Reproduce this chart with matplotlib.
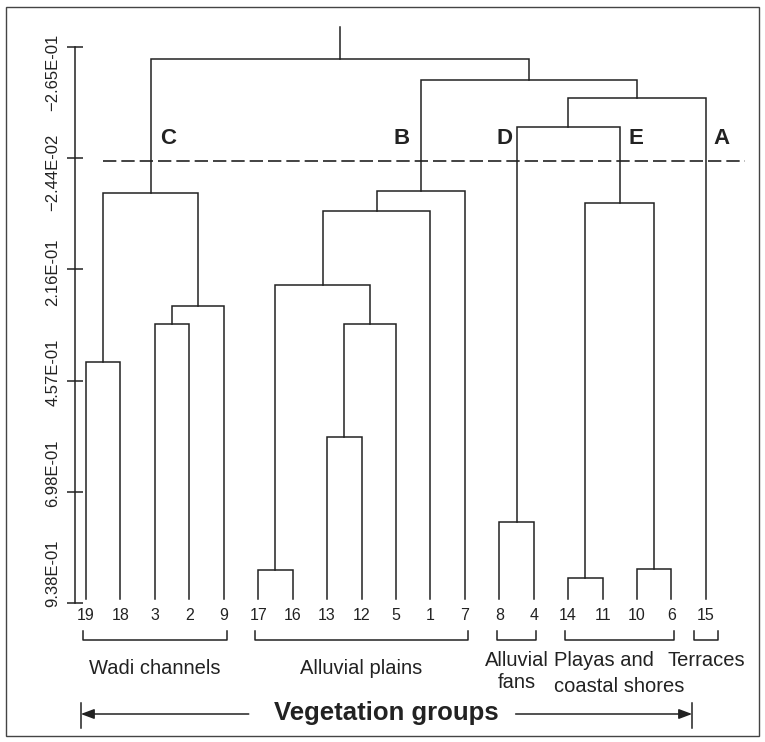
import numpy as np
import matplotlib.pyplot as plt
from matplotlib.patches import Rectangle
from matplotlib.transforms import blended_transform_factory

plt.rcParams['font.family'] = ['Liberation Sans', 'DejaVu Sans']

# leaves, left to right
leaf_order = ['19', '18', '3', '2', '9', '17', '16', '13', '12', '5',
              '1', '7', '8', '4', '14', '11', '10', '6', '15']

# merges (left child, right child, level); 'mN' = result of merge N
merge_left = ['19', '3', 'm1', 'm0', '17', '13', 'm5', 'm4', 'm7', 'm8',
              '8', '14', '10', 'm11', 'm10', 'm14', 'm9', 'm3']
merge_right = ['18', '2', '9', 'm2', '16', '12', '5', 'm6', '1', '7',
               '4', '11', '6', 'm12', 'm13', '15', 'm15', 'm16']
merge_level = [0.417, 0.334, 0.295, 0.051, 0.867, 0.579, 0.334, 0.250, 0.090, 0.047,
               0.763, 0.884, 0.864, 0.073, -0.092, -0.155, -0.194, -0.239]

ytick_vals = [-0.265, -0.0244, 0.216, 0.457, 0.698, 0.938]
ytick_labels = ['\u22122.65E-01', '\u22122.44E-02', '2.16E-01', '4.57E-01', '6.98E-01', '9.38E-01']

cut_level = -0.018
cluster_letters = ['C', 'B', 'D', 'E', 'A']
cluster_nodes = ['m3', 'm9', 'm10', 'm13', '15']

group_names = ['Wadi channels', 'Alluvial plains', 'Alluvial\nfans',
               'Playas and\ncoastal shores', 'Terraces']
group_first = ['19', '17', '8', '14', '15']
group_last = ['9', '7', '4', '6', '15']

W, H = 765, 742
col = '#222222'

fig = plt.figure(figsize=(W / 100, H / 100), dpi=100)
ax = fig.add_axes([0, 0, 1, 1])
ax.patch.set_visible(False)

# map leaf index / level onto the canvas
px_unit = 34.44
x0 = 86
k = (ytick_vals[-1] - ytick_vals[0]) / (603 - 47)
ax.set_xlim(-x0 / px_unit, (W - x0) / px_unit)
ax.set_ylim(ytick_vals[0] + (H - 47) * k, ytick_vals[0] - 47 * k)

leaf_base = 0.93
pos = {}
hgt = {}
for i, lf in enumerate(leaf_order):
    pos[lf] = i
    hgt[lf] = leaf_base

for n in range(len(merge_level)):
    a, b, lv = merge_left[n], merge_right[n], merge_level[n]
    ax.plot([pos[a], pos[a], pos[b], pos[b]], [hgt[a], lv, lv, hgt[b]],
            color=col, lw=1.1, solid_joinstyle='miter')
    pos['m%d' % n] = (pos[a] + pos[b]) / 2
    hgt['m%d' % n] = lv

root = 'm%d' % (len(merge_level) - 1)
ax.plot([pos[root], pos[root]], [hgt[root], hgt[root] - 0.069], color=col, lw=1.1)

# cut line
ax.plot([0.5, len(leaf_order) + 0.13], [cut_level, cut_level], color=col, lw=1.2,
        ls=(0, (8, 3)))

# y axis
axis_x = -0.32
for s in ['top', 'right', 'bottom']:
    ax.spines[s].set_visible(False)
ax.spines['left'].set_position(('data', axis_x))
ax.spines['left'].set_bounds(ytick_vals[0], ytick_vals[-1])
ax.spines['left'].set_color(col)
ax.spines['left'].set_linewidth(1.1)
ax.set_xticks([])
ax.set_yticks(ytick_vals)
ax.tick_params(axis='y', direction='inout', length=11, width=1.1, color=col, labelleft=False)
for i, (v, lab) in enumerate(zip(ytick_vals, ytick_labels)):
    off = 25 - 11 * i
    ax.annotate(lab, xy=(axis_x, v), xycoords='data', xytext=(-22, -off),
                textcoords='offset pixels', rotation=90, ha='center', va='center',
                fontsize=12, color=col)

tr = blended_transform_factory(ax.transData, fig.transFigure)
def fy(py):
    return 1 - py / H

# leaf labels
for lf in leaf_order:
    ax.text(pos[lf], fy(615), lf, transform=tr, ha='center', va='center',
            fontsize=11.5, color=col)

# cluster letters
letter_side = [18, -19, -12, 16, 16]
for let, nd, dx in zip(cluster_letters, cluster_nodes, letter_side):
    ax.annotate(let, xy=(pos[nd], fy(138)), xycoords=tr, xytext=(dx, 0),
                textcoords='offset pixels', ha='center', va='center',
                fontsize=16, fontweight='bold', color=col)

# group brackets and names
for name, f, l in zip(group_names, group_first, group_last):
    pad = 0.08 if f != l else 0.35
    x1, x2 = pos[f] - pad, pos[l] + pad
    ax.plot([x1, x1, x2, x2], [fy(631), fy(640), fy(640), fy(631)],
            transform=tr, color=col, lw=1.1)
    xc = (x1 + x2) / 2
    if name.startswith('Playas'):
        # two lines sharing a left edge, drawn separately
        top, bottom = name.split('\n')
        ax.annotate(top, xy=(xc, fy(660)), xycoords=tr, xytext=(-66, 0),
                    textcoords='offset pixels', ha='left', va='center',
                    fontsize=14.5, color=col)
        ax.annotate(bottom, xy=(xc, fy(687)), xycoords=tr, xytext=(-66, 0),
                    textcoords='offset pixels', ha='left', va='center',
                    fontsize=14.5, color=col)
    elif '\n' in name:
        ax.text(xc, fy(671), name, transform=tr, ha='center', va='center',
                fontsize=14.5, color=col, linespacing=1.2, multialignment='center')
    else:
        ty = fy(660) if name == 'Terraces' else fy(668)
        ax.text(xc, ty, name, transform=tr, ha='center', va='center',
                fontsize=14.5, color=col)

# Vegetation groups arrow
xl = pos[group_first[0]] - 0.15
xr = pos[group_first[-1]] - 0.4
xm = (xl + xr) / 2
ax.text(xm, fy(713), 'Vegetation groups', transform=tr, ha='center', va='center',
        fontsize=18.5, fontweight='bold', color=col)
for xb in [xl, xr]:
    ax.plot([xb, xb], [fy(703), fy(728)], transform=tr, color=col, lw=1.1)
arrow = dict(arrowstyle='-|>,head_length=0.4,head_width=0.15', mutation_scale=20,
             color=col, lw=1.1, shrinkA=0, shrinkB=0)
ax.annotate('', xy=(xl, fy(714)), xycoords=tr, xytext=(xm - 4.0, fy(714)),
            textcoords=tr, arrowprops=arrow)
ax.annotate('', xy=(xr, fy(714)), xycoords=tr, xytext=(xm + 3.75, fy(714)),
            textcoords=tr, arrowprops=arrow)

# frame around the figure
fig.patches.append(Rectangle((6 / W, 1 - 736 / H), 753 / W, 729 / H,
                             transform=fig.transFigure, fill=False, lw=1, ec='#444444'))

fig.savefig('out.png', dpi=100)
